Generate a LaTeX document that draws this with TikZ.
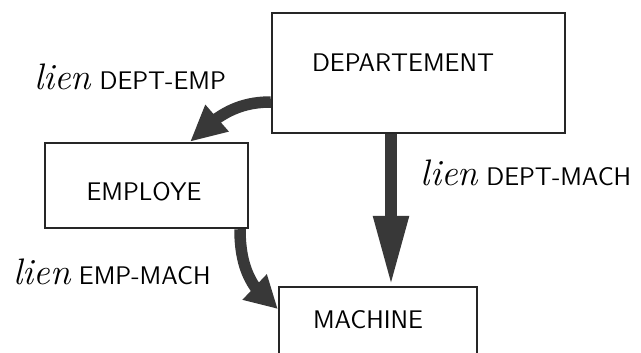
\documentclass[tikz,border=0pt]{standalone}
\usetikzlibrary{arrows.meta,bending}

\tikzset{
	box/.style={draw=black!85,line width=1.4pt,inner sep=0pt},
	caps/.style={font=\fontsize{14.5}{17}\selectfont\sffamily},
	bigarrow/.style={draw=black!78,line width=0.23cm,-{Triangle[length=#1,width=0.66cm,flex]}},
}
\newcommand{\lien}{{\fontsize{21}{21}\selectfont\rmfamily\itshape lien}\ }

\begin{document}
\begin{tikzpicture}[x=0.02cm,y=0.02cm,caps]
	\clip (0,0) rectangle (641,352);
	\fill[white] (0,0) rectangle (641,352);
	
	\node[box,minimum width=5.86cm,minimum height=2.4cm] (dept) at (418.5,279) {};
	\node (deptname) at (403,289) {DEPARTEMENT};
	\node[box,minimum width=4.06cm,minimum height=1.7cm] (emp) at (146.5,166.5) {};
	\node (empname) at (144,160) {EMPLOYE};
	\node[box,minimum width=3.96cm,minimum height=1.7cm] (mach) at (378,22.5) {};
	\node (machname) at (368,32) {MACHINE};
	
	\coordinate (d2m) at (391,0); \coordinate (d2e) at (0,250);
	\coordinate (e1) at (190,0); \coordinate (e2m) at (240,0); \coordinate (m2e) at (0,43);
	
	\draw[bigarrow=1.4cm] (dept.south -| d2m) -- (mach.north -| d2m);
	\draw[bigarrow=0.72cm] (dept.west |- d2e) to[out=180,in=45] (emp.north -| e1);
	\draw[bigarrow=0.64cm] (emp.south -| e2m) to[out=-90,in=146] (mach.west |- m2e);
	
	\node (lde) at (130,275) {\lien DEPT-EMP};
	\node (ldm) at (526,179) {\lien DEPT-MACH};
	\node (lem) at (112,80) {\lien EMP-MACH};
\end{tikzpicture}
\end{document}
